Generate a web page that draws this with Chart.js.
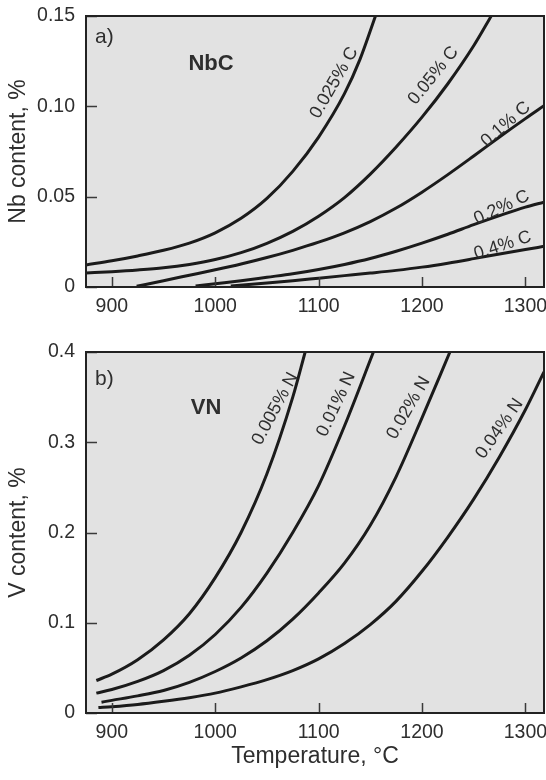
<!DOCTYPE html>
<html>
<head>
<meta charset="utf-8">
<script src="https://cdn.jsdelivr.net/npm/chart.js@4.4.1/dist/chart.umd.min.js"></script>
<style>
  html, body { margin: 0; padding: 0; background: #ffffff; }
  #wrap { position: relative; width: 546px; height: 780px; overflow: hidden; }
  #c1 { position: absolute; left: 0; top: 0; }
  #c2 { position: absolute; left: 0; top: 330px; }
</style>
</head>
<body>
<div id="wrap">
  <canvas id="c1" width="546" height="330"></canvas>
  <canvas id="c2" width="546" height="450"></canvas>
</div>
<script>
// ---------- DATA ----------
// Panel a) NbC : Nb content (%) vs temperature (°C)
const c025_T = [875, 900, 925, 950, 975, 1000, 1025, 1050, 1075, 1100, 1125, 1140, 1155];
const c025_V = [0.0122, 0.0145, 0.0172, 0.0203, 0.0243, 0.0300, 0.0380, 0.0490, 0.0640, 0.0830, 0.1070, 0.1260, 0.1500];
const c05_T = [875, 900, 925, 950, 975, 1000, 1025, 1050, 1075, 1100, 1125, 1150, 1175, 1200, 1225, 1250, 1267];
const c05_V = [0.0078, 0.0085, 0.0094, 0.0106, 0.0125, 0.0152, 0.0190, 0.0242, 0.0308, 0.0392, 0.0495, 0.0625, 0.0775, 0.0940, 0.1125, 0.1335, 0.1500];
const c1_T = [924, 950, 975, 1000, 1025, 1050, 1075, 1100, 1125, 1150, 1175, 1200, 1225, 1250, 1275, 1300, 1318];
const c1_V = [0.0004, 0.0035, 0.0065, 0.0095, 0.0127, 0.0163, 0.0203, 0.0248, 0.0300, 0.0362, 0.0437, 0.0525, 0.0622, 0.0725, 0.0830, 0.0932, 0.1003];
const c2_T = [981, 1000, 1025, 1050, 1075, 1100, 1125, 1150, 1175, 1200, 1225, 1250, 1275, 1300, 1318];
const c2_V = [0.0005, 0.0018, 0.0035, 0.0054, 0.0073, 0.0097, 0.0125, 0.0158, 0.0198, 0.0243, 0.0292, 0.0345, 0.0395, 0.0442, 0.0470];
const c4_T = [1015, 1050, 1075, 1100, 1125, 1150, 1175, 1200, 1225, 1250, 1275, 1300, 1318];
const c4_V = [0.0005, 0.0022, 0.0035, 0.0049, 0.0063, 0.0077, 0.0092, 0.0110, 0.0132, 0.0157, 0.0183, 0.0207, 0.0225];
const nbcNames = ['0.025% C', '0.05% C', '0.1% C', '0.2% C', '0.4% C'];

// Panel b) VN : V content (%) vs temperature (°C)
const n005_T = [885, 900, 925, 950, 975, 1000, 1025, 1050, 1075, 1087];
const n005_V = [0.036, 0.043, 0.059, 0.081, 0.110, 0.150, 0.200, 0.265, 0.350, 0.400];
const n01_T = [885, 900, 925, 950, 975, 1000, 1025, 1050, 1075, 1100, 1125, 1153];
const n01_V = [0.022, 0.026, 0.035, 0.047, 0.064, 0.087, 0.117, 0.155, 0.200, 0.252, 0.318, 0.400];
const n02_T = [890, 900, 925, 950, 975, 1000, 1025, 1050, 1075, 1100, 1125, 1150, 1175, 1200, 1227];
const n02_V = [0.012, 0.014, 0.019, 0.025, 0.034, 0.046, 0.061, 0.080, 0.104, 0.133, 0.166, 0.208, 0.262, 0.327, 0.400];
const n04_T = [887, 900, 925, 950, 975, 1000, 1025, 1050, 1075, 1100, 1125, 1150, 1175, 1200, 1225, 1250, 1275, 1300, 1318];
const n04_V = [0.006, 0.007, 0.0095, 0.013, 0.017, 0.022, 0.029, 0.037, 0.047, 0.060, 0.077, 0.098, 0.124, 0.157, 0.195, 0.237, 0.284, 0.336, 0.378];
const vnNames = ['0.005% N', '0.01% N', '0.02% N', '0.04% N'];

// Tick values and labels
const xTicks = [900, 1000, 1100, 1200, 1300];
const xLabels = ['900', '1000', '1100', '1200', '1300'];
const yTicksA = [0, 0.05, 0.10, 0.15];
const yLabelsA = ['0', '0.05', '0.10', '0.15'];
const yTicksB = [0, 0.1, 0.2, 0.3, 0.4];
const yLabelsB = ['0', '0.1', '0.2', '0.3', '0.4'];

// ---------- STYLE ----------
const FONT = "'Liberation Sans', Arial, Helvetica, sans-serif";
const TEXT = '#2e2e2e';
const LINE = '#1b1b1b';
const PANEL_BG = '#e2e2e2';

function pts(T, V) { return T.map((t, i) => ({ x: t, y: V[i] })); }
function ds(T, V, name) {
  return {
    label: name, data: pts(T, V), borderColor: LINE, borderWidth: 3,
    pointRadius: 0, fill: false, cubicInterpolationMode: 'monotone'
  };
}

// Plugin: panel background, frame, inward ticks, annotations
const framePlugin = {
  id: 'frame',
  beforeDatasetsDraw(chart) {
    const { ctx, chartArea: a } = chart;
    ctx.save();
    ctx.fillStyle = PANEL_BG;
    ctx.fillRect(a.left, a.top, a.right - a.left, a.bottom - a.top);
    ctx.restore();
  },
  afterDatasetsDraw(chart, args, opts) {
    const { ctx, chartArea: a, scales } = chart;
    ctx.save();
    // inward tick marks
    ctx.strokeStyle = '#3a3a3a';
    ctx.lineWidth = 1.5;
    ctx.beginPath();
    scales.x.ticks.forEach(t => {
      const px = Math.round(scales.x.getPixelForValue(t.value)) + 0.5;
      ctx.moveTo(px, a.bottom); ctx.lineTo(px, a.bottom - 10);
    });
    scales.y.ticks.forEach(t => {
      const py = Math.round(scales.y.getPixelForValue(t.value)) + 0.5;
      ctx.moveTo(a.left, py); ctx.lineTo(a.left + 11, py);
    });
    ctx.stroke();
    // frame
    ctx.strokeStyle = '#222';
    ctx.lineWidth = 2;
    ctx.strokeRect(a.left, a.top, a.right - a.left, a.bottom - a.top);
    // panel letter and compound name
    ctx.fillStyle = TEXT;
    ctx.textAlign = 'left';
    ctx.textBaseline = 'middle';
    ctx.font = '21px ' + FONT;
    ctx.fillText(opts.letter, a.left + 9, a.top + opts.letterDy);
    ctx.font = 'bold 22px ' + FONT;
    ctx.textAlign = 'center';
    ctx.fillText(opts.name, opts.nameX, opts.nameY);
    // curve labels
    ctx.font = '18px ' + FONT;
    (opts.labels || []).forEach(l => {
      const x = scales.x.getPixelForValue(l.t);
      const y = scales.y.getPixelForValue(l.v);
      ctx.save();
      ctx.translate(x, y);
      ctx.rotate(l.angle * Math.PI / 180);
      ctx.textAlign = 'center';
      ctx.textBaseline = 'middle';
      ctx.fillText(l.text, 0, 0);
      ctx.restore();
    });
    ctx.restore();
  }
};

function xScale(withTitle, height) {
  return {
    type: 'linear', min: 875, max: 1318,
    afterBuildTicks: s => { s.ticks = xTicks.map(v => ({ value: v })); },
    ticks: {
      callback: (v, i) => xLabels[i], color: TEXT, padding: 8,
      font: { family: FONT, size: 19.5 }, maxRotation: 0, autoSkip: false
    },
    grid: { display: false, drawTicks: false },
    border: { display: false },
    title: withTitle ? {
      display: true, text: 'Temperature, °C', color: TEXT,
      font: { family: FONT, size: 23 }, padding: { top: 0, bottom: 10 }
    } : { display: false },
    afterFit: s => { s.height = height; s.paddingLeft = 0; s.paddingRight = 0; }
  };
}
function yScale(max, ticks, labels, title) {
  return {
    type: 'linear', min: 0, max: max,
    afterBuildTicks: s => { s.ticks = ticks.map(v => ({ value: v })); },
    ticks: {
      callback: (v, i) => labels[i], color: TEXT, padding: 11,
      font: { family: FONT, size: 19.5 }, autoSkip: false
    },
    grid: { display: false, drawTicks: false },
    border: { display: false },
    title: {
      display: true, text: title, color: TEXT,
      font: { family: FONT, size: 23 }, padding: { top: 5, bottom: 0 }
    },
    afterFit: s => { s.width = 86; s.paddingTop = 0; s.paddingBottom = 0; }
  };
}

const common = {
  responsive: false, animation: false, devicePixelRatio: 1,
  events: [],
};

new Chart(document.getElementById('c1'), {
  type: 'line',
  data: {
    datasets: [
      ds(c025_T, c025_V, nbcNames[0]), ds(c05_T, c05_V, nbcNames[1]),
      ds(c1_T, c1_V, nbcNames[2]), ds(c2_T, c2_V, nbcNames[3]), ds(c4_T, c4_V, nbcNames[4])
    ]
  },
  options: Object.assign({}, common, {
    layout: { padding: { top: 16, right: 2, left: 0, bottom: 0 } },
    scales: { x: xScale(false, 43), y: yScale(0.15, yTicksA, yLabelsA, 'Nb content, %') },
    plugins: {
      legend: { display: false }, tooltip: { enabled: false },
      frame: {
        letter: 'a)', letterDy: 21, name: 'NbC', nameX: 211, nameY: 64,
        labels: [
          { text: nbcNames[0], t: 1115, v: 0.113, angle: -60 },
          { text: nbcNames[1], t: 1211, v: 0.117, angle: -51 },
          { text: nbcNames[2], t: 1281, v: 0.0900, angle: -41 },
          { text: nbcNames[3], t: 1277, v: 0.0440, angle: -25 },
          { text: nbcNames[4], t: 1278, v: 0.0230, angle: -18 }
        ]
      }
    }
  }),
  plugins: [framePlugin]
});

new Chart(document.getElementById('c2'), {
  type: 'line',
  data: {
    datasets: [
      ds(n005_T, n005_V, vnNames[0]), ds(n01_T, n01_V, vnNames[1]),
      ds(n02_T, n02_V, vnNames[2]), ds(n04_T, n04_V, vnNames[3])
    ]
  },
  options: Object.assign({}, common, {
    layout: { padding: { top: 22, right: 2, left: 0, bottom: 0 } },
    scales: { x: xScale(true, 67), y: yScale(0.4, yTicksB, yLabelsB, 'V content, %') },
    plugins: {
      legend: { display: false }, tooltip: { enabled: false },
      frame: {
        letter: 'b)', letterDy: 27, name: 'VN', nameX: 206, nameY: 78,
        labels: [
          { text: vnNames[0], t: 1058, v: 0.337, angle: -62 },
          { text: vnNames[1], t: 1117, v: 0.342, angle: -65 },
          { text: vnNames[2], t: 1187, v: 0.338, angle: -60 },
          { text: vnNames[3], t: 1275, v: 0.315, angle: -55 }
        ]
      }
    }
  }),
  plugins: [framePlugin]
});
</script>
</body>
</html>
